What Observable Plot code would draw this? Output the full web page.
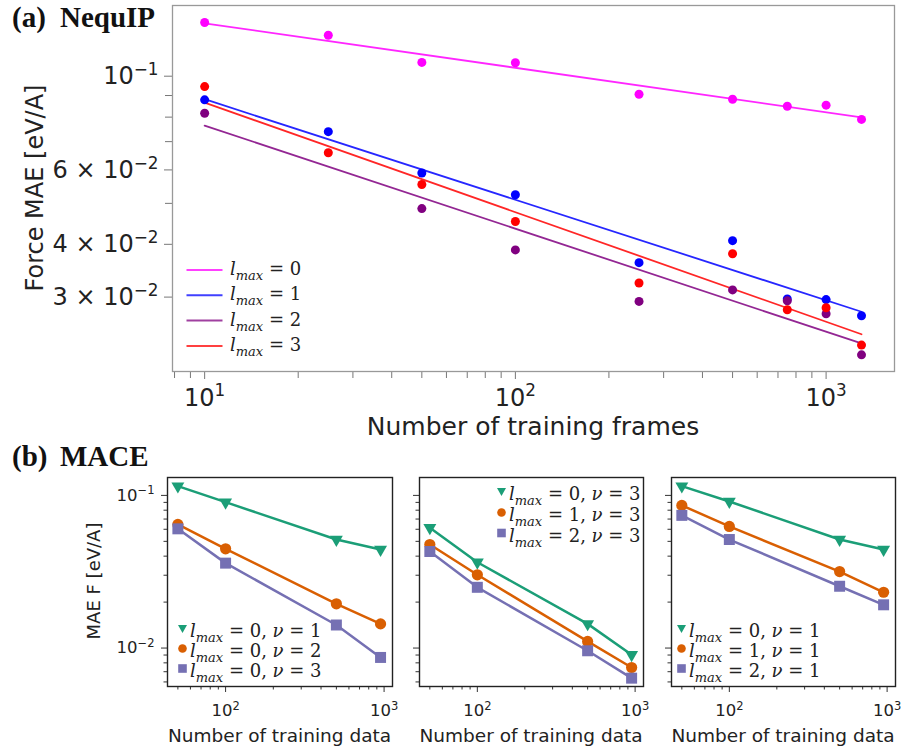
<!DOCTYPE html>
<html><head><meta charset="utf-8">
<script src="https://cdn.jsdelivr.net/npm/d3@7"></script>
<script src="https://cdn.jsdelivr.net/npm/@observablehq/plot@0.6"></script>
<style>
body{margin:0;background:#fff;}
#root{position:relative;width:904px;height:753px;overflow:hidden;background:#fff;}
#root > svg{position:absolute;overflow:visible;}
</style></head><body><div id="root"></div>
<script>
// ---------- (a) NequIP data ----------
const framesX = [10, 25, 50, 100, 250, 500, 750, 1000, 1300];
const nequipL0 = [0.134, 0.125, 0.1078, 0.1076, 0.0906, 0.0882, 0.0849, 0.0854, 0.079];
const nequipL1 = [0.0879, 0.0739, 0.059, 0.0524, 0.0362, 0.0408, 0.0297, 0.0296, 0.0271];
const nequipL2 = [0.0817, null, 0.0486, 0.0388, 0.0293, 0.0312, 0.0294, 0.0274, 0.0219];
const nequipL3 = [0.0945, 0.0659, 0.0554, 0.0453, 0.0324, 0.038, 0.028, 0.0283, 0.0231];
// fitted power-law lines (read at both ends)
const fitX = [10, 1300];
const fitL0 = [0.1334, 0.0799];
const fitL1 = [0.0882, 0.0277];
const fitL2 = [0.0764, 0.0233];
const fitL3 = [0.0866, 0.0245];
const nequipNames = ["l0", "l1", "l2", "l3"];
const nequipLegend = ["0", "1", "2", "3"];
const nequipColors = ["#ff00ff", "#0000ff", "#800080", "#ff0000"];

const xMajorTop = [10, 100, 1000];
const xMajorTopLabels = ["10^1", "10^2", "10^3"];
const xMinorTop = [8, 9, 20, 30, 40, 50, 60, 70, 80, 90, 200, 300, 400, 500, 600, 700, 800, 900];
const yMajorTop = [0.03, 0.04, 0.06, 0.1];
const yMajorTopLabels = ["3 × 10^−2", "4 × 10^−2", "6 × 10^−2", "10^−1"];
const yMinorTop = [0.05, 0.07, 0.08, 0.09];

// ---------- (b) MACE data ----------
const maceX = [50, 100, 500, 950];
// panel 1: lmax = 0, nu = 1,2,3
const p1Nu1 = [0.115, 0.0903, 0.0514, 0.0442];
const p1Nu2 = [0.0645, 0.0447, 0.0195, 0.0144];
const p1Nu3 = [0.0604, 0.036, 0.01416, 0.00868];
// panel 2: nu = 3, lmax = 0,1,2
const p2L0 = [0.0614, 0.0365, 0.0144, 0.00904];
const p2L1 = [0.0477, 0.0302, 0.01105, 0.00746];
const p2L2 = [0.0429, 0.025, 0.0096, 0.00635];
// panel 3: nu = 1, lmax = 0,1,2
const p3L0 = [0.115, 0.0913, 0.0514, 0.0442];
const p3L1 = [0.086, 0.0626, 0.0317, 0.0232];
const p3L2 = [0.074, 0.0514, 0.0254, 0.0192];
const p1Legend = [["0","1"],["0","2"],["0","3"]];
const p2Legend = [["0","3"],["1","3"],["2","3"]];
const p3Legend = [["0","1"],["1","1"],["2","1"]];
const maceColors = ["#1b9e77", "#d95f02", "#7570b3"];
const maceSymbols = ["triangle", "circle", "square"];

const xMajorBot = [100, 1000];
const xMajorBotLabels = ["10^2", "10^3"];
const xMinorBot = [50, 60, 70, 80, 90, 200, 300, 400, 500, 600, 700, 800, 900];
const yMajorBot = [0.01, 0.1];
const yMajorBotLabels = ["10^−2", "10^−1"];
const yMinorBot = [0.006, 0.007, 0.008, 0.009, 0.02, 0.03, 0.04, 0.05, 0.06, 0.07, 0.08, 0.09];

// ---------- helpers ----------
const root = document.getElementById("root");
function place(svg, left, top) { svg.style.left = left + "px"; svg.style.top = top + "px"; root.appendChild(svg); }
const lab = (vals, labels) => { const m = new Map(vals.map((v, i) => [v, labels[i]])); return d => m.get(d); };
// turn "a^b" tick strings into text with a raised superscript
function superscripts(svg, size) {
  svg.querySelectorAll("text").forEach(t => {
    const s = t.textContent;
    if (!s.includes("^")) return;
    const [base, exp] = s.split("^");
    t.textContent = base;
    const ts = document.createElementNS("http://www.w3.org/2000/svg", "tspan");
    ts.setAttribute("font-size", (size * 0.7).toFixed(1));
    ts.setAttribute("dy", (-size * 0.38).toFixed(1));
    ts.textContent = exp;
    t.appendChild(ts);
  });
}

// ---------- top plot ----------
const nequipPoints = [nequipL0, nequipL1, nequipL2, nequipL3].flatMap((ys, k) =>
  framesX.map((x, i) => ({x, y: ys[i], s: nequipNames[k]})).filter(d => d.y != null));
const nequipFits = [fitL0, fitL1, fitL2, fitL3].flatMap((ys, k) =>
  fitX.map((x, i) => ({x, y: ys[i], s: nequipNames[k]})));

const topPlot = Plot.plot({
  width: 904, height: 440, marginLeft: 172, marginRight: 10, marginTop: 5, marginBottom: 69,
  style: {background: "transparent", color: "#222", fontFamily: "DejaVu Sans, sans-serif"},
  x: {type: "log", domain: [7.88, 1660]},
  y: {type: "log", domain: [0.02, 0.147]},
  color: {domain: nequipNames, range: nequipColors},
  marks: [
    Plot.axisX({ticks: xMinorTop, tickFormat: () => "", tickSize: 7, stroke: "#777", label: null}),
    Plot.axisX({ticks: xMajorTop, tickFormat: lab(xMajorTop, xMajorTopLabels), tickSize: 8, tickPadding: 9, stroke: "#777", fill: "#222", fontSize: 24, label: null}),
    Plot.axisY({ticks: yMinorTop, tickFormat: () => "", tickSize: 7, stroke: "#777", label: null}),
    Plot.axisY({ticks: yMajorTop, tickFormat: lab(yMajorTop, yMajorTopLabels), tickSize: 8, tickPadding: 6, stroke: "#777", fill: "#222", fontSize: 24, label: null}),
    Plot.line(nequipFits, {x: "x", y: "y", z: "s", stroke: "s", strokeWidth: 1.8, strokeOpacity: 0.85}),
    Plot.dot(nequipPoints, {x: "x", y: "y", fill: "s", r: 4.5}),
    Plot.frame({stroke: "#999", strokeWidth: 1.3})
  ]
});
superscripts(topPlot, 24);
place(topPlot, 0, 0);

// ---------- bottom panels ----------
function macePanel(seriesList, opts) {
  const marks = [
    Plot.axisX({ticks: xMinorBot, tickFormat: () => "", tickSize: 3.5, stroke: "#333", label: null}),
    Plot.axisX({ticks: xMajorBot, tickFormat: lab(xMajorBot, xMajorBotLabels), tickSize: 6, tickPadding: 12, stroke: "#333", fill: "#222", fontSize: 16.5, label: null}),
    Plot.axisY({ticks: yMinorBot, tickFormat: () => "", tickSize: 3.5, stroke: "#333", label: null}),
    Plot.axisY({ticks: yMajorBot, tickFormat: opts.yLabels ? lab(yMajorBot, yMajorBotLabels) : () => "", tickSize: 6, tickPadding: 7, stroke: "#333", fill: "#222", fontSize: 16.5, label: null})
  ];
  seriesList.forEach((ys, k) => {
    const rows = maceX.map((x, i) => ({x, y: ys[i]}));
    marks.push(Plot.line(rows, {x: "x", y: "y", stroke: maceColors[k], strokeWidth: 2.5}));
  });
  seriesList.forEach((ys, k) => {
    const rows = maceX.map((x, i) => ({x, y: ys[i]}));
    const sym = maceSymbols[k];
    const r = sym === "triangle" ? 4.8 : sym === "circle" ? 5.6 : 6.2;
    marks.push(Plot.dot(rows, {x: "x", y: "y", fill: maceColors[k], symbol: sym, r, rotate: sym === "triangle" ? 180 : 0}));
  });
  marks.push(Plot.frame({stroke: "#222", strokeWidth: 1.4}));
  const svg = Plot.plot({
    width: opts.w, height: 283, marginLeft: opts.ml, marginRight: opts.mr, marginTop: 7, marginBottom: 67,
    style: {background: "transparent", color: "#222", fontFamily: "DejaVu Sans, sans-serif"},
    x: {type: "log", domain: [43, 1130]},
    y: {type: "log", domain: [0.0056, 0.131]},
    marks
  });
  superscripts(svg, 16.5);
  return svg;
}
place(macePanel([p1Nu1, p1Nu2, p1Nu3], {w: 400, ml: 167, mr: 8, yLabels: true}), 0, 470);
place(macePanel([p2L0, p2L1, p2L2], {w: 250, ml: 19, mr: 7, yLabels: false}), 400, 470);
place(macePanel([p3L0, p3L1, p3L2], {w: 254, ml: 21, mr: 9, yLabels: false}), 650, 470);

// ---------- overlay: titles, axis labels, legends ----------
const ov = d3.select(root).append("svg")
  .attr("width", 904).attr("height", 753)
  .style("left", "0px").style("top", "0px").style("pointer-events", "none");

function title(x, y, a, b) {
  const g = ov.append("g").attr("font-family", "Liberation Serif, Times New Roman, serif").attr("font-weight", "bold").attr("font-size", 29).attr("fill", "#111");
  g.append("text").attr("x", x).attr("y", y).text(a);
  g.append("text").attr("x", 60).attr("y", y).text(b);
}
title(12, 27, "(a)", "NequIP");
title(12, 466, "(b)", "MACE");

function label(x, y, txt, size, rotate) {
  ov.append("text").attr("transform", `translate(${x},${y})` + (rotate ? " rotate(-90)" : ""))
    .attr("text-anchor", "middle").attr("font-family", "DejaVu Sans, sans-serif")
    .attr("font-size", size).attr("fill", "#222").text(txt);
}
label(43, 188, "Force MAE [eV/A]", 24, true);
label(533, 435, "Number of training frames", 25, false);
label(100, 581, "MAE F [eV/A]", 18, true);
label(279.5, 742, "Number of training data", 18.5, false);
label(531, 742, "Number of training data", 18.5, false);
label(783, 742, "Number of training data", 18.5, false);

function mathText(x, y, lmax, nu) {
  const t = ov.append("text").attr("x", x).attr("y", y)
    .attr("font-family", "DejaVu Serif, serif").attr("font-size", 18).attr("fill", "#222");
  t.append("tspan").attr("font-style", "italic").text("l");
  t.append("tspan").attr("font-style", "italic").attr("font-size", 13).attr("dy", 5).text("max");
  t.append("tspan").attr("dy", -5).text(" = " + lmax + (nu != null ? ", " : ""));
  if (nu != null) {
    t.append("tspan").attr("font-style", "italic").text("ν");
    t.append("tspan").text(" = " + nu);
  }
}
// top legend
nequipLegend.forEach((lm, k) => {
  const base = 275 + k * 25.3;
  ov.append("line").attr("x1", 186.5).attr("x2", 222.5).attr("y1", base - 5).attr("y2", base - 5)
    .attr("stroke", nequipColors[k]).attr("stroke-width", 2).attr("stroke-opacity", 0.75);
  mathText(230, base, lm, null);
});
// bottom legends
function marker(x, y, k) {
  const c = maceColors[k];
  if (k === 0) ov.append("path").attr("d", `M${x-4.5},${y-3.5}L${x+4.5},${y-3.5}L${x},${y+4.5}Z`).attr("fill", c);
  else if (k === 1) ov.append("circle").attr("cx", x).attr("cy", y).attr("r", 4.3).attr("fill", c);
  else ov.append("rect").attr("x", x - 4.3).attr("y", y - 4.3).attr("width", 8.6).attr("height", 8.6).attr("fill", c);
}
function maceLegend(tx, bases, entries) {
  entries.forEach((e, k) => {
    marker(tx - 7.5, bases[k] - 8.5, k);
    mathText(tx, bases[k], e[0], e[1]);
  });
}
maceLegend(190, [637, 657, 677], p1Legend);
maceLegend(509, [500, 521, 541.5], p2Legend);
maceLegend(689, [637, 657, 677], p3Legend);
</script></body></html>
